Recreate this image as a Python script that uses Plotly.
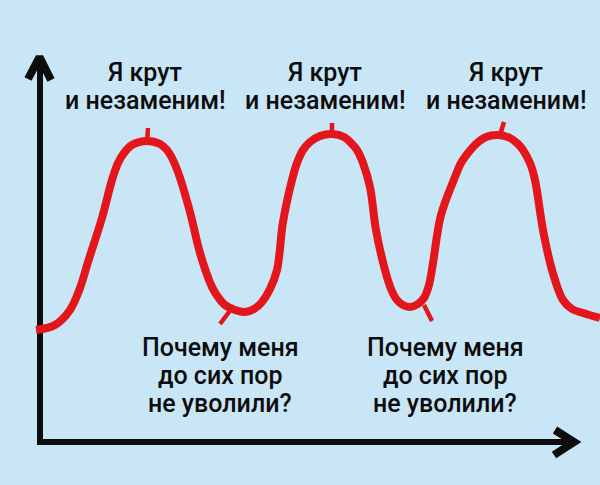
import plotly.graph_objects as go

W, H = 600, 485

# Mood curve: time (x) vs. level (y, measured upward from the bottom)
curve_x = [36, 55, 70, 80, 88, 102, 112, 118, 124, 132, 147, 160, 167, 172, 178, 190, 200,
           212, 218, 225, 235, 245, 254, 262, 270, 277, 283, 292, 297, 303, 310, 320, 332,
           344, 352, 357, 363, 370, 376, 385, 391, 397, 403, 410, 418, 424, 429, 433, 441,
           455, 461, 468, 476, 486, 498, 510, 518, 523, 530, 535, 543, 552, 563, 572, 583, 600]
curve_y = [155, 160, 175, 197, 223, 267, 305, 322, 332, 340, 344, 341, 335, 327, 313, 273, 232,
           198, 188, 180, 175, 173, 176, 183, 196, 215, 263, 305, 322, 335, 343, 349, 351,
           348, 341, 335, 322, 298, 255, 215, 196, 185, 180, 178, 181, 187, 200, 222, 270,
           308, 322, 332, 341, 348, 350, 347, 341, 335, 322, 305, 255, 215, 185, 176, 172, 167]

# Little strokes marking the peaks and troughs
peak_ticks = [((148, 357), (147, 342)), ((332, 362), (332, 350)), ((504, 363), (500, 350))]
trough_ticks = [((232, 177), (220, 161)), ((424, 180), (432, 164))]

# Labels
peak_label_lines = ["Я крут", "и незаменим!"]
peak_label_x = [145, 325, 506]
trough_label_lines = ["Почему меня", "до сих пор", "не уволили?"]
trough_label_x = [220, 445]

RED = "#e2161b"
INK = "#0d0d0d"
BG = "#c9e6f6"
FONT = "Roboto, sans-serif"

fig = go.Figure()

# Axes drawn as arrows
axis_line = dict(color=INK, width=6)
head_line = dict(color=INK, width=8)
fig.add_trace(go.Scatter(x=[40, 40], y=[40, 428], mode="lines", line=axis_line, hoverinfo="skip"))
fig.add_trace(go.Scatter(x=[28, 39.5, 51], y=[406, 428, 405], mode="lines", line=head_line, hoverinfo="skip"))
fig.add_trace(go.Scatter(x=[37, 574], y=[43, 43], mode="lines", line=axis_line, hoverinfo="skip"))
fig.add_trace(go.Scatter(x=[555, 574, 554], y=[55, 43, 30], mode="lines", line=head_line, hoverinfo="skip"))

# The curve
fig.add_trace(go.Scatter(x=curve_x, y=curve_y, mode="lines",
                         line=dict(color=RED, width=8, shape="spline", smoothing=1.0),
                         hoverinfo="skip"))

for (a, b) in peak_ticks + trough_ticks:
    fig.add_trace(go.Scatter(x=[a[0], b[0]], y=[a[1], b[1]], mode="lines",
                             line=dict(color=RED, width=4.5), hoverinfo="skip"))

label_font = dict(family=FONT, size=25, color=INK, weight=500)
annotations = []
for cx in peak_label_x:
    for i, t in enumerate(peak_label_lines):
        annotations.append(dict(x=cx, y=413 - i * 28, text=t, showarrow=False,
                                xanchor="center", yanchor="middle", font=label_font))
for cx in trough_label_x:
    for i, t in enumerate(trough_label_lines):
        annotations.append(dict(x=cx, y=138 - i * 28, text=t, showarrow=False,
                                xanchor="center", yanchor="middle", font=label_font))

fig.update_layout(
    width=W, height=H,
    margin=dict(l=0, r=0, t=0, b=0),
    paper_bgcolor=BG, plot_bgcolor=BG,
    showlegend=False,
    xaxis=dict(range=[0, W], visible=False, fixedrange=True),
    yaxis=dict(range=[0, H], visible=False, fixedrange=True),
    annotations=annotations,
)

fig.write_html("out.html")
